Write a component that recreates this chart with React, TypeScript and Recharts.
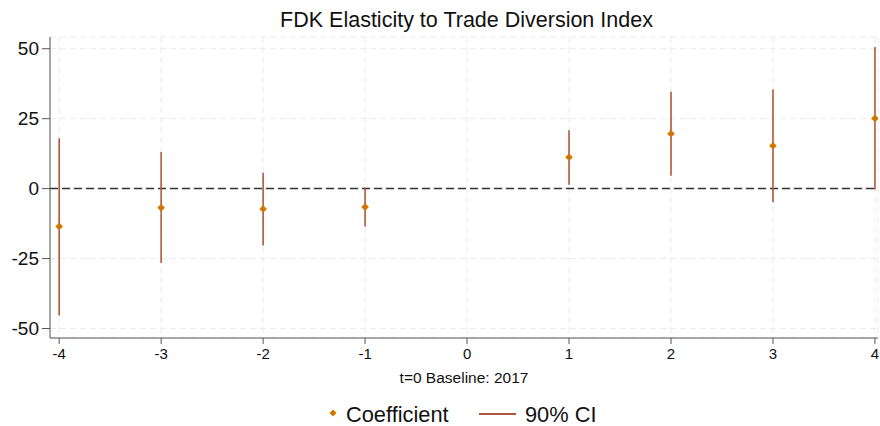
import React from "react";
import {
  ComposedChart,
  Scatter,
  ErrorBar,
  XAxis,
  YAxis,
  CartesianGrid,
  ReferenceLine,
} from "recharts";

// event time relative to 2017
const periods = [-4, -3, -2, -1, 1, 2, 3, 4];
const coefficient = [-13.5, -6.8, -7.3, -6.6, 11.2, 19.6, 15.3, 25.1];
const ciLow = [-45.4, -26.6, -20.3, -13.5, 1.4, 4.6, -4.9, -0.3];
const ciHigh = [18.0, 13.1, 5.7, 0.4, 20.9, 34.6, 35.4, 50.6];

const xTicks = [-4, -3, -2, -1, 0, 1, 2, 3, 4];
const yTicks = [-50, -25, 0, 25, 50];

const COEF = "#d47500";
const CI = "#b0583a";
const FONT = "'Liberation Sans', Arial, Helvetica, sans-serif";

const dados = periods.map((t, i) => ({
  t,
  coef: coefficient[i],
  err: [coefficient[i] - ciLow[i], ciHigh[i] - coefficient[i]],
}));

function Diamond(props: any) {
  const { cx, cy } = props;
  if (cx == null || cy == null) return null;
  const r = 3.8;
  return (
    <path
      d={`M${cx},${cy - r}L${cx + r},${cy}L${cx},${cy + r}L${cx - r},${cy}Z`}
      fill={COEF}
    />
  );
}

export default function App() {
  return (
    <div
      style={{
        position: "absolute",
        left: 0,
        top: 0,
        width: 880,
        height: 426,
        background: "#fff",
        fontFamily: FONT,
      }}
    >
      <ComposedChart
        width={880}
        height={426}
        data={dados}
        margin={{ top: 37, right: 2, left: 0, bottom: 0 }}
      >
        <CartesianGrid stroke="#ebebeb" strokeDasharray="6 4" />
        <XAxis
          type="number"
          dataKey="t"
          domain={[-4.09, 4.03]}
          ticks={xTicks}
          allowDataOverflow
          height={88}
          tickSize={6}
          tickMargin={4}
          stroke="#555"
          tick={{ fontSize: 15, fill: "#111", fontFamily: FONT }}
          label={{
            value: "t=0 Baseline: 2017",
            position: "insideBottom",
            offset: 43,
            style: { fontSize: 15.5, fill: "#111", fontFamily: FONT },
          }}
        />
        <YAxis
          type="number"
          domain={[-53.4, 54.2]}
          ticks={yTicks}
          allowDataOverflow
          width={50}
          tickSize={8}
          tickMargin={3}
          stroke="#555"
          tick={{ fontSize: 19, fill: "#111", fontFamily: FONT }}
        />
        <ReferenceLine y={0} stroke="#333" strokeWidth={1.5} strokeDasharray="8 4" />
        <Scatter dataKey="coef" shape={<Diamond />} isAnimationActive={false}>
          <ErrorBar
            dataKey="err"
            direction="y"
            width={0}
            stroke={CI}
            strokeWidth={1.6}
            isAnimationActive={false}
          />
        </Scatter>
      </ComposedChart>
      <svg
        width={880}
        height={426}
        style={{ position: "absolute", left: 0, top: 0, pointerEvents: "none" }}
      >
        <text x={466.5} y={27} textAnchor="middle" fontSize={21.5} fill="#111" fontFamily={FONT}>
          FDK Elasticity to Trade Diversion Index
        </text>
        <path d="M333,409.5L336.5,413L333,416.5L329.5,413Z" fill={COEF} />
        <text x={346} y={421.5} fontSize={21.8} fill="#111" fontFamily={FONT}>
          Coefficient
        </text>
        <line x1={479} x2={516} y1={414} y2={414} stroke={CI} strokeWidth={2} />
        <text x={525} y={421.5} fontSize={21.8} fill="#111" fontFamily={FONT}>
          90% CI
        </text>
      </svg>
    </div>
  );
}
